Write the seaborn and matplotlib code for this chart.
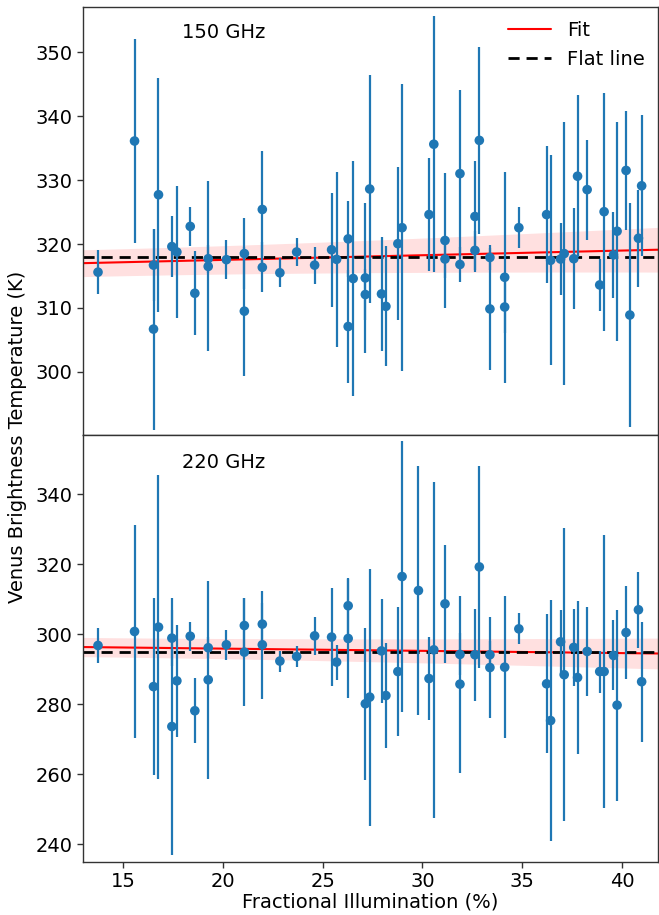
import numpy as np
import pandas as pd
import matplotlib
matplotlib.use("Agg")
import matplotlib.pyplot as plt
import seaborn as sns

# 150 GHz measurements: illumination (%), brightness temperature (K), 1-sigma error (K)
illum_150 = [13.75, 15.58, 16.53, 16.53, 16.78, 17.45, 17.70, 18.37, 18.60, 19.27,
             19.27, 20.18, 21.08, 21.08, 21.98, 21.98, 22.86, 23.70, 24.60, 25.45,
             25.70, 26.28, 26.28, 26.53, 27.14, 27.14, 27.36, 27.95, 28.17, 28.77,
             28.98, 30.33, 30.57, 31.13, 31.13, 31.88, 31.88, 32.63, 32.63, 32.85,
             33.38, 33.38, 34.12, 34.12, 34.83, 36.22, 36.42, 36.92, 37.10, 37.58,
             37.77, 38.25, 38.88, 39.10, 39.57, 39.75, 40.20, 40.39, 40.82, 40.98]
temp_150 = [315.6, 336.1, 316.7, 306.7, 327.7, 319.6, 318.75, 322.75, 312.3, 317.7,
            316.5, 317.55, 318.5, 309.5, 325.4, 316.35, 315.5, 318.75, 316.7, 319.1,
            317.6, 320.8, 307.1, 314.6, 314.7, 312.1, 328.6, 312.2, 310.25, 320.05,
            322.55, 324.6, 335.6, 320.55, 317.65, 331.0, 316.8, 324.3, 319.0, 336.2,
            317.9, 309.85, 314.8, 310.15, 322.55, 324.6, 317.45, 317.65, 318.5, 317.7,
            330.6, 328.5, 313.6, 325.05, 318.3, 322.0, 331.5, 308.9, 320.9, 329.1]
err_150 = [3.4, 16.0, 5.6, 15.7, 18.3, 4.7, 10.3, 3.1, 6.6, 2.2,
           13.3, 3.0, 5.5, 10.1, 9.2, 3.9, 2.3, 2.2, 2.9, 8.9,
           13.7, 6.0, 8.8, 18.4, 11.7, 4.0, 17.8, 8.9, 9.4, 12.0,
           22.4, 8.8, 20.0, 10.5, 3.0, 13.1, 2.8, 8.6, 3.0, 14.6,
           2.0, 9.5, 16.5, 4.0, 3.2, 10.7, 16.4, 5.7, 20.6, 7.9,
           12.7, 7.8, 4.0, 18.6, 6.7, 17.1, 9.3, 17.5, 7.6, 11.0]

# 220 GHz measurements
illum_220 = [13.75, 15.58, 16.53, 16.78, 17.45, 17.45, 17.70, 18.37, 18.60, 19.27,
             19.27, 20.18, 21.08, 21.08, 21.98, 21.98, 22.86, 23.70, 24.60, 25.45,
             25.70, 26.28, 26.28, 27.14, 27.36, 27.95, 28.17, 28.77, 28.98, 29.80,
             30.33, 30.57, 31.13, 31.88, 31.88, 32.63, 32.85, 33.38, 33.38, 34.12,
             34.83, 36.22, 36.42, 36.92, 37.10, 37.58, 37.77, 38.25, 38.88, 39.10,
             39.57, 39.75, 40.20, 40.82, 40.98]
temp_220 = [296.75, 300.75, 285.0, 302.0, 298.85, 273.6, 286.65, 299.4, 278.1, 296.1,
            286.95, 296.95, 302.45, 294.85, 302.85, 296.95, 292.3, 293.6, 299.5, 299.15,
            292.0, 308.1, 298.75, 280.1, 282.0, 295.2, 282.45, 289.3, 316.45, 312.45,
            287.3, 295.5, 308.65, 294.2, 285.7, 294.1, 319.2, 294.1, 290.45, 290.55,
            301.5, 285.8, 275.3, 297.8, 288.4, 296.2, 287.6, 295.05, 289.3, 289.3,
            293.9, 279.7, 300.45, 306.95, 286.4]
err_220 = [5.0, 30.5, 25.2, 43.5, 8.0, 36.6, 16.0, 4.2, 9.3, 3.0,
           28.3, 4.3, 8.0, 15.4, 6.0, 15.5, 3.0, 2.9, 5.4, 14.0,
           5.0, 8.0, 17.0, 21.7, 36.7, 14.9, 15.1, 18.5, 38.6, 35.7,
           11.8, 48.1, 16.8, 6.0, 25.3, 13.2, 28.9, 4.0, 14.4, 20.3,
           4.4, 19.9, 34.4, 9.0, 41.9, 11.1, 22.0, 12.6, 6.0, 39.0,
           10.0, 27.3, 13.4, 10.85, 17.1]

# Linear fit parameters (about a pivot illumination) and the constant model
bands = ["150 GHz", "220 GHz"]
fit_pivot = [12.4, 12.4]
fit_value_at_pivot = [316.96, 296.34]
fit_slope = [0.073, -0.064]
fit_sigma_pivot = [2.1, 2.75]
fit_sigma_slope = [0.095, 0.117]
flat_value = [318.0, 294.75]

x_limits = (13.0, 41.8)
y_limits = [(290.2, 357.0), (234.9, 357.0)]
y_ticks = [[300, 310, 320, 330, 340, 350], [240, 260, 280, 300, 320, 340]]
x_ticks = [15, 20, 25, 30, 35, 40]

sns.set_style("ticks")
plt.rcParams["font.family"] = ["DejaVu Sans"]
plt.rcParams["axes.edgecolor"] = "#333333"
plt.rcParams["axes.linewidth"] = 1.0
plt.rcParams["text.color"] = "black"
plt.rcParams["axes.labelcolor"] = "black"
plt.rcParams["xtick.color"] = "black"
plt.rcParams["ytick.color"] = "black"

FS = 14

fig, axes = plt.subplots(2, 1, figsize=(6.59, 9.15), dpi=100, sharex=True)
fig.subplots_adjust(left=0.126, right=0.9985, top=0.992, bottom=0.058, hspace=0)

point_color = "#1f77b4"
panels = [(illum_150, temp_150, err_150), (illum_220, temp_220, err_220)]

for i, (ax, (xs, ts, es)) in enumerate(zip(axes, panels)):
    df = pd.DataFrame({"illum": xs, "temp": ts, "err": es})

    grid = np.linspace(x_limits[0], x_limits[1], 200)
    dx = grid - fit_pivot[i]
    model = fit_value_at_pivot[i] + fit_slope[i] * dx
    sigma = np.sqrt(fit_sigma_pivot[i] ** 2 + (dx * fit_sigma_slope[i]) ** 2)
    ax.fill_between(grid, model - sigma, model + sigma, color="red", alpha=0.12,
                    linewidth=0, zorder=1)
    sns.lineplot(x=grid, y=model, ax=ax, color="red", linewidth=1.5,
                 label="Fit", zorder=2)
    sns.lineplot(x=grid, y=np.full_like(grid, flat_value[i]), ax=ax, color="black",
                 linewidth=2.0, linestyle=(0, (4, 2.5)), label="Flat line", zorder=2.1)

    ax.errorbar(df["illum"], df["temp"], yerr=df["err"], fmt="none",
                ecolor=point_color, elinewidth=1.6, capsize=0, zorder=3)
    sns.scatterplot(data=df, x="illum", y="temp", ax=ax, color=point_color, s=48,
                    edgecolor="none", linewidth=0, zorder=4, legend=False)

    ax.set_xlim(*x_limits)
    ax.set_ylim(*y_limits[i])
    ax.set_yticks(y_ticks[i])
    ax.set_ylabel("")
    ax.set_xlabel("")
    ax.tick_params(labelsize=FS, length=4, width=1.0, color="#333333")
    ax.text(0.245, 0.94 if i == 0 else 0.935, bands[i], transform=ax.transAxes,
            ha="center", va="center", fontsize=FS)

axes[0].legend(loc="upper right", frameon=False, fontsize=FS, handlelength=2.2,
               borderaxespad=0.3)
axes[1].get_legend().remove()
axes[0].tick_params(axis="x", bottom=False, labelbottom=False)
axes[1].set_xticks(x_ticks)
axes[1].set_xlabel("Fractional Illumination (%)", fontsize=FS, labelpad=1)
fig.text(0.026, 0.523, "Venus Brightness Temperature (K)", rotation=90,
         ha="center", va="center", fontsize=FS)

fig.savefig("out.png", dpi=100)
